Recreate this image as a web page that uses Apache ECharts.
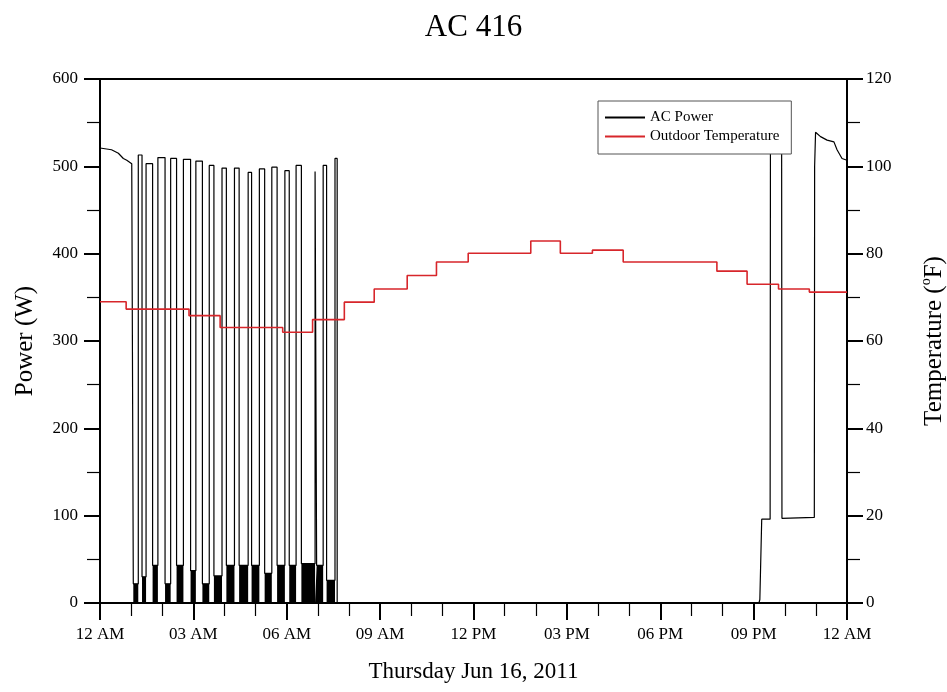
<!DOCTYPE html>
<html>
<head>
<meta charset="utf-8">
<script src="https://cdn.jsdelivr.net/npm/echarts@6/dist/echarts.min.js"></script>
<style>
html,body{margin:0;padding:0;background:#fff;}
#chart{width:947px;height:692px;}
</style>
</head>
<body>
<div id="chart"></div>
<script>
// ---- tick labels ----
const xTickLabels = ["12 AM","03 AM","06 AM","09 AM","12 PM","03 PM","06 PM","09 PM","12 AM"];

// ---- AC power (W), time in hours ----
// early continuous run
const earlyTimes = [0, 0.37, 0.59, 0.75, 0.86, 1.02];
const earlyPower = [521, 519, 515, 509, 507, 503];
// compressor-off (fan only) periods
const offStart = [1.07,1.35,1.69,2.09,2.46,2.91,3.29,3.66,4.06,4.47,4.87,5.29,5.69,6.08,6.47,6.96,7.28];
const offEnd   = [1.23,1.48,1.86,2.27,2.68,3.08,3.51,3.92,4.32,4.76,5.12,5.52,5.94,6.30,6.91,7.17,7.55];
const fanPower = [22,30,43,22,43,37,22,31,43,43,43,34,43,43,45,43,26];
// compressor-on power after each off period
const onPower  = [513,503,510,509,508,506,501,498,498,493,497,499,495,501,494,501,509];
const lastOffTime = 7.62;
// evening
const eveTimes = [21.17,21.20,21.21,21.26,21.53,21.54,21.90,21.91,22.95,22.96,22.99,23.15,23.36,23.58,23.68,23.84,24.0];
const evePower = [0,4,4,96,96,520,520,97,98,500,539,534,530,528,519,509,507];

// ---- Outdoor temperature (F), hourly observations ----
const tempTimes  = [0,0.84,2.86,3.86,5.87,6.83,7.85,8.81,9.87,10.81,11.83,13.84,14.79,15.82,16.81,19.82,20.79,21.80,22.79,24.0];
const tempValues = [69,67.3,65.8,63.1,62,64.9,68.9,71.9,75,78.1,80.1,82.9,80.1,80.8,78.1,76,73,71.9,71.2,71.2];

// ---- build series data ----
const powerData = [];
earlyTimes.forEach((t,i)=>powerData.push([t, earlyPower[i]]));
const fanData = [[0,0]];
offStart.forEach((s,i)=>{
  if(i>0) powerData.push([s, onPower[i-1]]);
  powerData.push([s, fanPower[i]]);
  powerData.push([offEnd[i], fanPower[i]]);
  powerData.push([offEnd[i], onPower[i]]);
  fanData.push([s,0],[s,fanPower[i]],[offEnd[i],fanPower[i]],[offEnd[i],0]);
});
powerData.push([lastOffTime, onPower[onPower.length-1]]);
powerData.push([lastOffTime, 0]);
eveTimes.forEach((t,i)=>powerData.push([t, evePower[i]]));
fanData.push([24,0]);
const tempData = tempTimes.map((t,i)=>[t, tempValues[i]]);

const serif = '"Liberation Serif","DejaVu Serif",serif';
const chart = echarts.init(document.getElementById('chart'), null, {renderer:'canvas'});
chart.setOption({
  animation:false,
  backgroundColor:'#fff',
  title:{
    text:'AC 416', left:'center', top:7,
    textStyle:{fontFamily:serif, fontSize:31, fontWeight:'normal', color:'#000'}
  },
  legend:{
    data:['AC Power','Outdoor Temperature'],
    orient:'vertical', left:598, top:101,
    icon:'rect', itemWidth:40, itemHeight:2, itemGap:4,
    padding:[9,12,10,7],
    borderColor:'#555', borderWidth:1, backgroundColor:'#fff',
    textStyle:{fontFamily:serif, fontSize:15, color:'#000'},
    z:10
  },
  grid:{left:100, right:100, top:79, bottom:89, outerBoundsMode:'none', containLabel:false,
    show:true, borderColor:'#000', borderWidth:2, backgroundColor:'transparent'},
  xAxis:{
    type:'value', min:0, max:24, interval:3,
    name:'Thursday Jun 16, 2011', nameLocation:'middle', nameGap:57,
    nameTextStyle:{fontFamily:serif, fontSize:23, color:'#000'},
    axisLine:{show:true, lineStyle:{color:'#000', width:2}},
    axisTick:{show:true, length:17, lineStyle:{color:'#000', width:2}},
    minorTick:{show:true, splitNumber:3, length:13, lineStyle:{color:'#000', width:1.2}},
    axisLabel:{margin:23, fontFamily:serif, fontSize:17, color:'#000',
      formatter:v=>xTickLabels[Math.round(v/3)]},
    splitLine:{show:false}
  },
  yAxis:[{
    type:'value', min:0, max:600, interval:100, position:'left',
    name:'Power (W)', nameLocation:'middle', nameGap:62,
    nameTextStyle:{fontFamily:serif, fontSize:25, color:'#000'},
    axisLine:{show:true, lineStyle:{color:'#000', width:2}},
    axisTick:{show:true, length:16, lineStyle:{color:'#000', width:2}},
    minorTick:{show:true, splitNumber:2, length:13, lineStyle:{color:'#000', width:1.2}},
    axisLabel:{margin:22, fontFamily:serif, fontSize:17, color:'#000'},
    splitLine:{show:false}
  },{
    type:'value', min:0, max:120, interval:20, position:'right',
    name:'{a|Temperature (}{s|o}{a|F)}', nameLocation:'middle', nameGap:72,
    nameTextStyle:{fontFamily:serif, color:'#000',
      rich:{a:{fontFamily:serif, fontSize:25, color:'#000', lineHeight:30},
            s:{fontFamily:serif, fontSize:14, color:'#000', verticalAlign:'top', lineHeight:30}}},
    axisLine:{show:true, lineStyle:{color:'#000', width:2}},
    axisTick:{show:true, length:16, lineStyle:{color:'#000', width:2}},
    minorTick:{show:true, splitNumber:2, length:13, lineStyle:{color:'#000', width:1.2}},
    axisLabel:{margin:19, fontFamily:serif, fontSize:17, color:'#000'},
    splitLine:{show:false}
  }],
  series:[{
    name:'AC Power', type:'line', data:powerData, yAxisIndex:0,
    symbol:'none', color:'#000', lineStyle:{color:'#000', width:1.2}, z:2
  },{
    name:'fan', type:'line', data:fanData, yAxisIndex:0,
    symbol:'none', silent:true, lineStyle:{width:0}, areaStyle:{color:'#000', opacity:1}, z:2
  },{
    name:'Outdoor Temperature', type:'line', data:tempData, yAxisIndex:1, step:'end',
    symbol:'none', color:'#d7262b', lineStyle:{color:'#d7262b', width:1.6}, z:3
  }]
});
</script>
</body>
</html>
